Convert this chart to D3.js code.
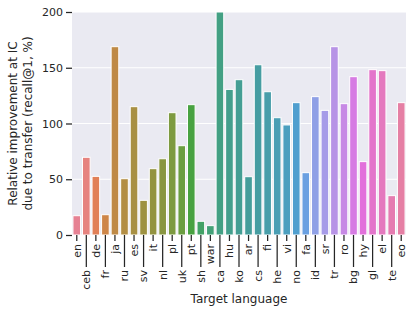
<!DOCTYPE html>
<html><head><meta charset="utf-8">
<script src="https://cdn.jsdelivr.net/npm/d3@7"></script>
<style>body{margin:0;background:#fff}svg{display:block}text{font-family:"DejaVu Sans",sans-serif;fill:#262626}</style>
</head><body><svg id="c" width="413" height="313"></svg>
<script>
const languages = ["en","ceb","de","fr","ja","ru","es","sv","it","nl","pl","uk","pt","sh","war","ca","hu","ko","ar","cs","fi","he","vi","no","fa","id","sr","tr","ro","bg","hy","gl","el","te","eo"];
const improvement = [17.3,69.7,52.6,18.2,168.9,50.5,115.1,31.1,59.5,68.4,109.7,80.1,116.9,12.3,8.4,200,130.6,139.3,52.3,152.7,128.5,105.2,98.7,118.7,55.9,124.1,111.8,168.9,117.8,142,65.8,148.3,147.4,35.3,118.7];
const yTicks = [0,50,100,150,200];

// seaborn husl palette
function huslToRgb(H,S,L){
  const m=[[3.2406,-1.5372,-0.4986],[-0.9689,1.8758,0.0415],[0.0557,-0.2040,1.0570]];
  const refY=1,refU=0.19784,refV=0.46834,labE=0.008856,labK=903.3;
  function maxChroma(L,H){const hr=H*Math.PI/180,sh=Math.sin(hr),ch=Math.cos(hr);
    const s1=Math.pow(L+16,3)/1560896;const s2=s1>labE?s1:L/labK;let res=Infinity;
    for(const [m1,m2,m3] of m){const top=(0.99915*m1+1.05122*m2+1.14460*m3)*s2;
      const rb=0.86330*m3-0.17266*m2, lb=0.12949*m3-0.38848*m1;const bottom=(rb*sh+lb*ch)*s2;
      for(const t of [0,1]){const C=L*(top-1.05122*t)/(bottom+0.17266*sh*t);if(C>0&&C<res)res=C;}}
    return res;}
  const C=maxChroma(L,H)/100*S;const hr=H*Math.PI/180;const U=Math.cos(hr)*C,V=Math.sin(hr)*C;
  const t=(L+16)/116;const vy=Math.pow(t,3)>labE?Math.pow(t,3):(116*t-16)/labK;
  const vu=U/(13*L)+refU, vv=V/(13*L)+refV;const Y=vy*refY;
  const X=0-(9*Y*vu)/((vu-4)*vv-vu*vv);const Z=(9*Y-15*vv*Y-vv*X)/(3*vv);
  const fl=c=>c<=0.0031308?12.92*c:1.055*Math.pow(c,1/2.4)-0.055;
  return m.map(r=>Math.min(1,Math.max(0,fl(r[0]*X+r[1]*Y+r[2]*Z))));
}
function palette(n){const out=[];for(let i=0;i<n;i++){let h=(i/n+0.01)%1;h*=359;
  const [r,g,b]=huslToRgb(h,0.9*99,0.65*99);const c=d3.hsl(d3.rgb(r*255,g*255,b*255));c.s*=0.75;out.push(c.formatHex());}
  return out;}
const colors=palette(languages.length);

const svg=d3.select("#c");
const m={l:72,r:7,t:12,b:78};
const W=413-m.l-m.r,H=313-m.t-m.b;
const g=svg.append("g").attr("transform",`translate(${m.l},${m.t})`);
const x=d3.scaleBand().domain(languages).range([0,W]).paddingInner(0.2).paddingOuter(0.1);
const y=d3.scaleLinear().domain([0,200]).range([H,0]);
g.append("rect").attr("width",W).attr("height",H).attr("fill","#eaeaf2");
g.selectAll("line.grid").data(yTicks).join("line").attr("class","grid")
  .attr("x1",0).attr("x2",W).attr("y1",d=>y(d)).attr("y2",d=>y(d)).attr("stroke","#fff").attr("stroke-width",1.2);
g.append("g").selectAll("rect").data(languages).join("rect")
  .attr("x",d=>x(d)).attr("width",x.bandwidth())
  .attr("y",(d,i)=>y(improvement[i])).attr("height",(d,i)=>H-y(improvement[i]))
  .attr("fill",(d,i)=>colors[i]).attr("stroke","#fff").attr("stroke-width",1);
// y axis
const ya=g.append("g").call(d3.axisLeft(y).tickValues(yTicks).tickSize(6).tickPadding(3));
ya.select(".domain").remove();
ya.selectAll("line").attr("stroke","#262626").attr("stroke-width",1.25);
ya.selectAll("text").attr("font-size",11).attr("fill","#262626");
// x axis with alternating tick lengths
const xa=g.append("g").attr("transform",`translate(0,${H})`);
const tk=xa.selectAll("g").data(languages).join("g").attr("transform",d=>`translate(${x(d)+x.bandwidth()/2},0)`);
tk.append("line").attr("y1",0).attr("y2",(d,i)=>i%2?32:6).attr("stroke","#262626").attr("stroke-width",1.25);
tk.append("text").attr("transform",(d,i)=>`translate(0,${(i%2?32:6)+3}) rotate(-90)`)
  .attr("text-anchor","end").attr("dy","0.35em").attr("font-size",11).text(d=>d);
svg.append("text").attr("x",m.l+W/2).attr("y",303).attr("text-anchor","middle").attr("font-size",12).text("Target language");
const yl=svg.append("text").attr("transform",`translate(0,${m.t+H/2}) rotate(-90)`).attr("text-anchor","middle").attr("font-size",12);
yl.append("tspan").attr("x",0).attr("y",17).text("Relative improvement at IC");
yl.append("tspan").attr("x",0).attr("y",32).text("due to transfer (recall@1, %)");
</script></body></html>
